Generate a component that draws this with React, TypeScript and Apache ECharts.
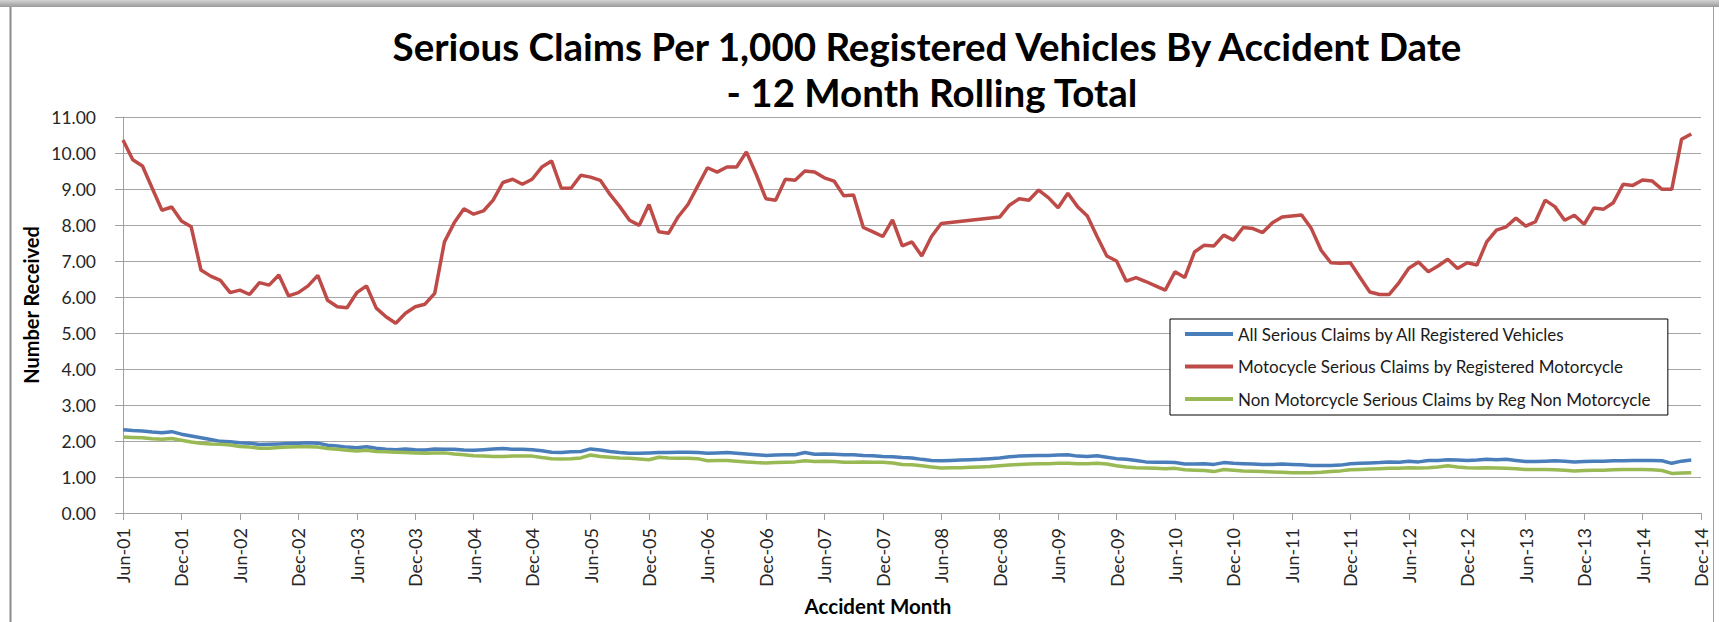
import { useEffect, useRef } from "react";
import * as echarts from "echarts";

const MONTH_NAMES = ["Jan", "Feb", "Mar", "Apr", "May", "Jun", "Jul", "Aug", "Sep", "Oct", "Nov", "Dec"];
const FIRST_YEAR = 2001;
const FIRST_MONTH_INDEX = 5; // Jun
const CATEGORY_COUNT = 163; // Jun-01 .. Dec-14

const categories: string[] = [];
for (let k = 0; k < CATEGORY_COUNT; k++) {
  const m = (FIRST_MONTH_INDEX + k) % 12;
  const y = FIRST_YEAR + Math.floor((FIRST_MONTH_INDEX + k) / 12);
  categories.push(MONTH_NAMES[m] + "-" + String(y % 100).padStart(2, "0"));
}

const seriesNames = [
  "All Serious Claims by All Registered Vehicles",
  "Motocycle Serious Claims by Registered Motorcycle",
  "Non Motorcycle Serious Claims by Reg Non Motorcycle",
];

const allVehicles = [
  2.31, 2.29, 2.28, 2.25, 2.23, 2.26, 2.19, 2.14, 2.09, 2.04, 1.99, 1.98,
  1.95, 1.94, 1.90, 1.91, 1.92, 1.93, 1.94, 1.95, 1.94, 1.88, 1.86, 1.83,
  1.81, 1.84, 1.80, 1.77, 1.76, 1.78, 1.76, 1.75, 1.78, 1.77, 1.77, 1.75,
  1.74, 1.76, 1.78, 1.79, 1.77, 1.77, 1.76, 1.73, 1.69, 1.68, 1.70, 1.71,
  1.78, 1.75, 1.71, 1.68, 1.66, 1.66, 1.67, 1.68, 1.68, 1.69, 1.69, 1.68,
  1.66, 1.67, 1.68, 1.66, 1.64, 1.62, 1.60, 1.61, 1.62, 1.62, 1.68, 1.63,
  1.64, 1.63, 1.62, 1.62, 1.60, 1.59, 1.57, 1.56, 1.54, 1.53, 1.49, 1.46,
  1.45, 1.46, 1.47, 1.48, 1.49, 1.51, 1.53, 1.56, 1.58, 1.59, 1.60, 1.60,
  1.61, 1.62, 1.58, 1.57, 1.59, 1.55, 1.51, 1.49, 1.46, 1.42, 1.41, 1.41,
  1.40, 1.36, 1.36, 1.37, 1.35, 1.40, 1.38, 1.37, 1.36, 1.35, 1.35, 1.36,
  1.35, 1.34, 1.32, 1.32, 1.32, 1.33, 1.37, 1.38, 1.39, 1.40, 1.42, 1.41,
  1.44, 1.42, 1.46, 1.46, 1.48, 1.47, 1.46, 1.47, 1.49, 1.48, 1.49, 1.46,
  1.43, 1.43, 1.44, 1.45, 1.44, 1.42, 1.43, 1.44, 1.44, 1.45, 1.45, 1.46,
  1.46, 1.46, 1.45, 1.38, 1.44, 1.47,
];

const motorcycle: (number | null)[] = [
  10.36, 9.81, 9.64, 9.02, 8.41, 8.50, 8.11, 7.95, 6.75, 6.58, 6.46, 6.12,
  6.19, 6.07, 6.40, 6.33, 6.61, 6.03, 6.12, 6.31, 6.60, 5.91, 5.73, 5.70,
  6.12, 6.31, 5.69, 5.45, 5.27, 5.55, 5.73, 5.80, 6.10, 7.53, 8.06, 8.45,
  8.30, 8.39, 8.69, 9.18, 9.27, 9.13, 9.27, 9.61, 9.78, 9.02, 9.02, 9.38,
  9.33, 9.24, 8.85, 8.51, 8.13, 7.99, 8.57, 7.81, 7.77, 8.23, 8.57, 9.08,
  9.59, 9.47, 9.61, 9.61, 10.03, 9.41, 8.73, 8.69, 9.27, 9.24, 9.50, 9.47,
  9.31, 9.22, 8.81, 8.83, 7.93, 7.81, 7.68, 8.14, 7.42, 7.53, 7.14, 7.68,
  8.04, null, null, null, null, null, 8.22, 8.55, 8.73, 8.69, 8.97, 8.76,
  8.48, 8.88, 8.51, 8.25, 7.68, 7.14, 7.00, 6.44, 6.54, 6.43, 6.31, 6.19,
  6.70, 6.54, 7.25, 7.44, 7.42, 7.72, 7.58, 7.93, 7.90, 7.79, 8.06, 8.22,
  8.25, 8.28, 7.90, 7.30, 6.95, 6.94, 6.95, 6.54, 6.14, 6.07, 6.07, 6.40,
  6.80, 6.97, 6.70, 6.86, 7.05, 6.79, 6.95, 6.89, 7.53, 7.86, 7.95, 8.19,
  7.97, 8.09, 8.69, 8.51, 8.13, 8.27, 8.02, 8.47, 8.44, 8.62, 9.13, 9.10,
  9.25, 9.22, 8.99, 8.99, 10.38, 10.53,
];

const nonMotorcycle = [
  2.11, 2.10, 2.09, 2.06, 2.05, 2.07, 2.02, 1.97, 1.94, 1.92, 1.91, 1.89,
  1.85, 1.83, 1.80, 1.80, 1.82, 1.83, 1.84, 1.84, 1.83, 1.79, 1.77, 1.74,
  1.72, 1.74, 1.71, 1.70, 1.69, 1.68, 1.67, 1.66, 1.67, 1.67, 1.64, 1.62,
  1.59, 1.58, 1.57, 1.57, 1.58, 1.58, 1.58, 1.54, 1.51, 1.50, 1.51, 1.53,
  1.61, 1.57, 1.55, 1.53, 1.52, 1.50, 1.48, 1.55, 1.53, 1.52, 1.52, 1.51,
  1.45, 1.46, 1.46, 1.44, 1.42, 1.40, 1.39, 1.40, 1.41, 1.42, 1.45, 1.43,
  1.44, 1.43, 1.41, 1.41, 1.42, 1.41, 1.41, 1.39, 1.35, 1.34, 1.31, 1.28,
  1.25, 1.26, 1.26, 1.27, 1.28, 1.29, 1.31, 1.33, 1.35, 1.36, 1.37, 1.37,
  1.38, 1.38, 1.37, 1.37, 1.38, 1.36, 1.31, 1.28, 1.26, 1.25, 1.24, 1.23,
  1.24, 1.20, 1.19, 1.18, 1.15, 1.21, 1.19, 1.17, 1.16, 1.15, 1.14, 1.13,
  1.12, 1.12, 1.12, 1.13, 1.15, 1.17, 1.20, 1.21, 1.22, 1.23, 1.24, 1.24,
  1.26, 1.25, 1.26, 1.28, 1.31, 1.28, 1.26, 1.25, 1.26, 1.25, 1.24, 1.23,
  1.21, 1.21, 1.21, 1.20, 1.19, 1.17, 1.18, 1.19, 1.19, 1.20, 1.21, 1.21,
  1.21, 1.20, 1.18, 1.10, 1.11, 1.12,
];

const TITLE_LINE_1 = "Serious Claims Per 1,000 Registered Vehicles By Accident Date";
const TITLE_LINE_2 = "- 12 Month Rolling Total";
const Y_NAME = "Number Received";
const X_NAME = "Accident Month";

const FONT = "Lato, 'Open Sans', sans-serif";
const COLORS = ["#4a7ebb", "#be4b48", "#98b954"];

export default function App() {
  const ref = useRef<HTMLDivElement>(null);
  useEffect(() => {
    if (!ref.current) return;
    const chart = echarts.init(ref.current, null, { renderer: "svg" });
    chart.setOption({
      animation: false,
      backgroundColor: "#ffffff",
      color: COLORS,
      grid: { left: 123, right: 18, top: 117, bottom: 109 },
      graphic: [
        {
          type: "rect",
          shape: { x: 0, y: 0, width: 1719, height: 7 },
          style: {
            fill: new echarts.graphic.LinearGradient(0, 0, 0, 1, [
              { offset: 0, color: "#d4d4d4" },
              { offset: 1, color: "#9a9a9a" },
            ]),
          },
          silent: true,
        },
        {
          type: "line",
          shape: { x1: 10.5, y1: 7, x2: 10.5, y2: 622 },
          style: { stroke: "#8c8c8c", lineWidth: 2 },
          silent: true,
        },
        {
          type: "line",
          shape: { x1: 1713.5, y1: 7, x2: 1713.5, y2: 622 },
          style: { stroke: "#a0a0a0", lineWidth: 1 },
          silent: true,
        },
        {
          type: "text",
          x: 927,
          y: 46,
          style: {
            text: TITLE_LINE_1,
            fontFamily: FONT,
            fontSize: 38.5,
            fontWeight: "bold",
            fill: "#000",
            textAlign: "center",
            textVerticalAlign: "middle",
          },
        },
        {
          type: "text",
          x: 932,
          y: 92,
          style: {
            text: TITLE_LINE_2,
            fontFamily: FONT,
            fontSize: 38.5,
            fontWeight: "bold",
            fill: "#000",
            textAlign: "center",
            textVerticalAlign: "middle",
          },
        },
        {
          type: "text",
          x: 31,
          y: 305,
          rotation: Math.PI / 2,
          style: {
            text: Y_NAME,
            fontFamily: FONT,
            fontSize: 20,
            fontWeight: "bold",
            fill: "#000",
            textAlign: "center",
            textVerticalAlign: "middle",
          },
        },
        {
          type: "text",
          x: 878,
          y: 606,
          style: {
            text: X_NAME,
            fontFamily: FONT,
            fontSize: 20.5,
            fontWeight: "bold",
            fill: "#000",
            textAlign: "center",
            textVerticalAlign: "middle",
          },
        },
      ],
      legend: {
        data: seriesNames,
        orient: "vertical",
        left: 1170,
        top: 319,
        padding: [5, 17, 6, 15],
        itemGap: 12.5,
        itemWidth: 48,
        itemHeight: 4,
        icon: "rect",
        backgroundColor: "#ffffff",
        borderColor: "#000000",
        borderWidth: 1,
        borderRadius: 0,
        selectedMode: false,
        textStyle: { fontFamily: FONT, fontSize: 17, color: "#1a1a1a", lineHeight: 20 },
      },
      xAxis: {
        type: "category",
        data: categories,
        boundaryGap: false,
        axisLine: { lineStyle: { color: "#a0a0a0", width: 1 } },
        axisTick: { show: true, interval: 5, length: 7, lineStyle: { color: "#a0a0a0" } },
        axisLabel: {
          interval: 5,
          rotate: 90,
          margin: 15,
          fontFamily: FONT,
          fontSize: 18,
          color: "#262626",
        },
        splitLine: { show: false },
      },
      yAxis: {
        type: "value",
        min: 0,
        max: 11,
        interval: 1,
        axisLine: { show: true, lineStyle: { color: "#a0a0a0", width: 1 } },
        axisTick: { show: true, length: 8, lineStyle: { color: "#a0a0a0" } },
        axisLabel: {
          margin: 27,
          fontFamily: FONT,
          fontSize: 17.5,
          color: "#262626",
          formatter: (v: number) => v.toFixed(2),
        },
        splitLine: { lineStyle: { color: "#a6a6a6", width: 1 } },
      },
      series: [
        {
          name: seriesNames[0],
          type: "line",
          data: allVehicles,
          symbol: "none",
          lineStyle: { width: 3.5, color: COLORS[0] },
          itemStyle: { color: COLORS[0] },
        },
        {
          name: seriesNames[1],
          type: "line",
          data: motorcycle,
          symbol: "none",
          connectNulls: true,
          lineStyle: { width: 3.5, color: COLORS[1] },
          itemStyle: { color: COLORS[1] },
        },
        {
          name: seriesNames[2],
          type: "line",
          data: nonMotorcycle,
          symbol: "none",
          lineStyle: { width: 3.5, color: COLORS[2] },
          itemStyle: { color: COLORS[2] },
        },
      ],
    });
    return () => chart.dispose();
  }, []);
  return (
    <div
      ref={ref}
      style={{ position: "fixed", left: 0, top: 0, width: 1719, height: 622, background: "#fff" }}
    />
  );
}
